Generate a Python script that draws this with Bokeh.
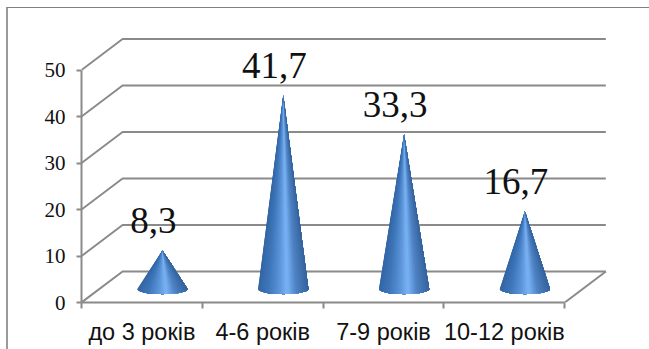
import numpy as np
from bokeh.core.properties import value
from bokeh.embed import file_html
from bokeh.models import ColumnDataSource, FixedTicker, InlineStyleSheet, LinearAxis, Range1d
from bokeh.plotting import figure
from bokeh.resources import INLINE

# Share of children per age group, percent
categories = ["до 3 років", "4-6 років", "7-9 років", "10-12 років"]
shares = [8.3, 41.7, 33.3, 16.7]
share_labels = ["8,3", "41,7", "33,3", "16,7"]
y_ticks = [0, 10, 20, 30, 40, 50]

GRID = "#8a8a8a"
SERIF = "'Liberation Serif'"
SANS = "'Liberation Sans'"

# Oblique depth of the box, in axis units
DEPTH_X = 0.34
DEPTH_Y = 6.67
# Cone footprint, in axis units
BASE_RX = 0.208
BASE_RY = 1.1
BASE_LIFT = 2.9

# Horizontal shading across a cone, by position from left (0) to right (1)
SHADE_STOPS = [0.0, 0.2, 0.42, 0.58, 0.76, 1.0]
SHADE_RGB = [(52, 102, 164), (62, 118, 186), (92, 148, 216),
             (122, 180, 246), (78, 130, 196), (54, 100, 158)]


def shade(pos):
    channels = [np.interp(pos, SHADE_STOPS, [c[i] for c in SHADE_RGB]) for i in range(3)]
    return "#%02x%02x%02x" % tuple(int(round(c)) for c in channels)


n = len(categories)
p = figure(
    width=649, height=349, output_backend="svg", toolbar_location=None,
    x_range=Range1d(0, 4.42), y_range=Range1d(0, 58.5),
    min_border_left=81, min_border_right=34, min_border_top=30, min_border_bottom=47,
    x_axis_type=None, y_axis_type=None, background_fill_color="white",
    border_fill_color="white", outline_line_color=None,
)
p.grid.visible = False

# Chart-area frame: only its left and top edges fall on the canvas
p.stylesheets = [InlineStyleSheet(css="""
:host::after {
  content: "";
  position: absolute;
  left: 6px;
  top: 7px;
  right: 0;
  bottom: 0;
  border-left: 2px solid #9a9a9a;
  border-top: 1px solid #808080;
  pointer-events: none;
}
""")]

# Gridlines: a side-wall segment plus a back-wall run for each tick
grid_xs = [[0, DEPTH_X, n + DEPTH_X] for _ in y_ticks]
grid_ys = [[t, t + DEPTH_Y, t + DEPTH_Y] for t in y_ticks]
p.multi_line(grid_xs, grid_ys, line_color=GRID, line_width=2)
# Right edge of the floor
p.line([n, n + DEPTH_X], [0, DEPTH_Y], line_color=GRID, line_width=2)

# Cones: overlapping fans painted left to right, so each colour band covers the seam of the last
STRIPS = 40
angles = np.linspace(-np.pi / 2, np.pi / 2, STRIPS + 1)
xs, ys, colors = [], [], []
for i, v in enumerate(shares):
    cx = i + 0.5 + DEPTH_X / 2
    apex_y = v + BASE_LIFT
    for k in range(STRIPS):
        arc = angles[k:]
        xs.append(np.concatenate([[cx], cx + BASE_RX * np.sin(arc)]))
        ys.append(np.concatenate([[apex_y], BASE_LIFT - BASE_RY * np.cos(arc)]))
        mid = (angles[k] + angles[k + 1]) / 2
        colors.append(shade((np.sin(mid) + 1) / 2))
p.patches(xs, ys, fill_color=colors, line_color=None)

# Axes
left_axis = LinearAxis(
    ticker=FixedTicker(ticks=y_ticks), bounds=(0, 50),
    axis_line_color=GRID, axis_line_width=2,
    major_tick_line_color=GRID, major_tick_line_width=2,
    major_tick_in=0, major_tick_out=5, minor_tick_line_color=None,
    major_label_standoff=11, major_label_text_color="#111111",
    major_label_text_font=SERIF, major_label_text_font_size="21px",
)
p.add_layout(left_axis, "left")

centres = [i + 0.5 for i in range(n)]
bottom_axis = LinearAxis(
    ticker=FixedTicker(ticks=centres, minor_ticks=list(range(n + 1))), bounds=(0, n),
    major_label_overrides=dict(zip(centres, categories)),
    axis_line_color=GRID, axis_line_width=2,
    major_tick_line_color=None, major_tick_in=0, major_tick_out=6,
    minor_tick_line_color=GRID, minor_tick_line_width=2, minor_tick_in=0, minor_tick_out=6,
    major_label_standoff=10, major_label_text_color="#111111",
    major_label_text_font=SANS, major_label_text_font_size="23.5px",
)
p.add_layout(bottom_axis, "below")

# Value labels above the cone tips
labels = ColumnDataSource(dict(
    x=[i + 0.5 + DEPTH_X / 2 for i in range(n)],
    y=[v + BASE_LIFT for v in shares],
    text=share_labels,
))
p.text(
    "x", "y", text="text", source=labels, x_offset=-9, y_offset=-30,
    text_align="center", text_baseline="alphabetic", text_color="#111111",
    text_font=value(SERIF), text_font_size="37px",
)

open("out.html", "w").write(file_html(p, INLINE))
